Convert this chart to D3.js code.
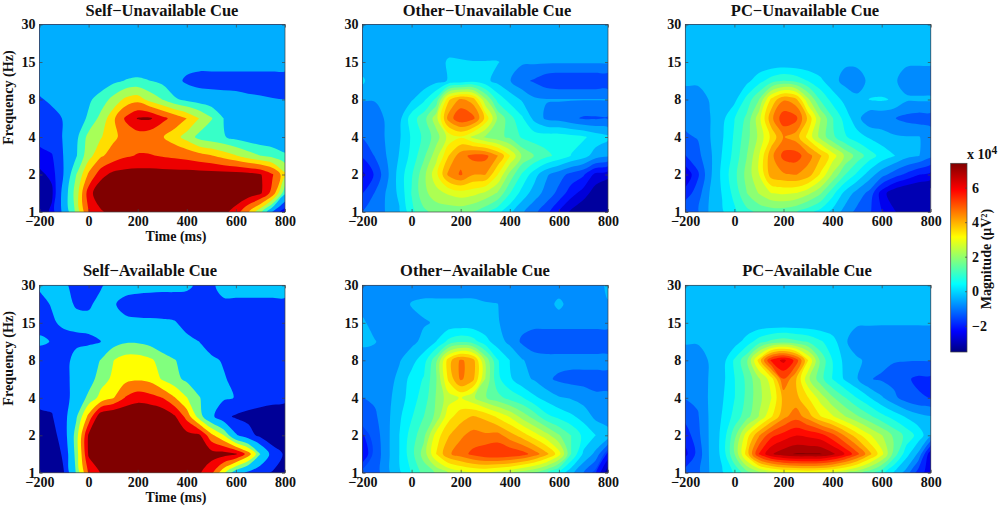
<!DOCTYPE html>
<html>
<head>
<meta charset="utf-8">
<script src="https://cdn.jsdelivr.net/npm/d3@7"></script>
<style>
  html, body { margin: 0; padding: 0; background: #fff; }
  text { font-family: "Liberation Serif", serif; font-weight: bold; fill: #111; }
</style>
</head>
<body>
<div id="chart"></div>
<script>
// values are in units of 10^4 uV^2, rows go from 1 Hz up to 30 Hz, columns from -200 to 800 ms
const timesMs = [-200,-150,-100,-50,0,50,100,150,200,250,300,350,400,450,500,550,600,650,700,750,800];
const freqTicks = [1,2,4,8,15,30];
const timeTicks = [-200,0,200,400,600,800];
const barTicks = [-2,0,2,4,6];
const barRange = [-3.52,7.41];

const selfUnavailable = [
  [-3,-2.2,0,2.5,6.1,7.2,8,8.5,8.5,8.5,8.5,8.5,8.5,8.5,8.3,7.8,6.8,4.8,2.5,-.6,-2.6],
  [-3.2,-2.6,.2,2.8,6.8,8.5,8.5,8.5,8.5,8.5,8.5,8.5,8.5,8.5,8.5,8.5,8.5,8.2,7.6,5.5,1.2],
  [-2.6,-2.2,-.35,2.2,4.9,6.9,7.8,8,8,8,8,8,8,8,8,8,8,7.9,7.5,6.2,3.8],
  [-2,-1.8,-.35,.9,3,4.5,5.3,5.9,6.2,6.2,6,5.8,5.6,5.2,4.8,4.2,3.6,2.8,2.2,1.8,1.2],
  [-1.4,-1,-.35,.7,2.6,3.4,4.4,5.2,5.4,5.2,4.8,4,3,1.8,1.4,1.1,.6,.3,.1,0,-.1],
  [-1.2,-.9,-.35,.3,1.2,2.6,4.4,6.3,7.5,7.6,6.5,5.6,4.7,3.5,2.3,1,.5,.3,.1,0,-.1],
  [-.6,-.2,.2,.4,.8,1.5,2.6,3.8,4.2,3,2.2,1.2,.7,.4,.2,.1,0,-.2,-.3,-.4,-.45],
  [.1,.1,.1,.1,.1,.3,.7,1.05,1.2,1,.7,0,-.7,-1,-1,-1,-1,-1,-1,-1,-1],
  [.1,.1,.1,.1,.1,.1,.1,.1,.1,.1,.1,.1,.1,.1,.1,.1,.1,.1,.1,.1,.1],
  [.2,.2,.2,.2,.2,.2,.2,.2,.2,.2,.2,.2,.2,.2,.2,.2,.2,.2,.2,.2,.2],
  [.2,.2,.2,.2,.2,.2,.2,.2,.2,.2,.2,.2,.2,.2,.2,.2,.2,.2,.2,.2,.2]
];
const otherUnavailable = [
  [-1,-.9,-.4,0,1,1.6,1.9,1.9,1.9,1.7,1.3,.8,.2,-.4,-.9,-1.4,-2.2,-2.8,-3.2,-3.5,-3.6],
  [-1.6,-1,-.4,.2,1.2,2.1,2.6,2.9,3.1,3,2.7,2.2,1.2,.4,-.2,-.7,-1.2,-1.9,-2.4,-3,-3.3],
  [-2.3,-1.5,-.6,.3,1.1,2.1,3.2,4.6,5.1,4.5,4.5,3.4,2.1,1.1,.3,-.4,-.8,-1.2,-1.5,-2.3,-2.5],
  [-1.5,-1,-.45,.1,.8,1.6,2.6,3.9,4.8,5.2,5.2,4.5,3.4,2.2,1.7,1.3,1,.6,.3,-.2,-.4],
  [-1,-.8,-.4,0,.7,1.3,2,3,3.3,2.7,2.2,1.9,1.6,1.1,.9,.9,.9,.8,.7,.4,.2],
  [-.8,-.7,-.4,-.1,.9,1.5,2.6,4.7,5.5,5.2,3.8,2.2,1.4,.7,-.1,-.6,-.7,-.9,-1.1,-1.1,-1.1],
  [-.45,-.45,-.4,-.3,0,.5,1.3,3.8,4.6,4.2,2.4,1,.4,0,-.4,-.45,-.45,-.45,-.45,-.45,-.45],
  [.2,-.4,-.45,-.45,-.4,-.3,-.1,.1,.2,.4,.2,-.1,-.45,-.9,-1.1,-1.4,-1.5,-1.5,-1.5,-1.5,-1.5],
  [-.4,-.4,-.4,-.4,-.4,-.4,-.4,.2,.15,.1,.1,.1,-.1,-.4,-.4,-.4,-.4,-.4,-.4,-.4,-.4],
  [-.4,-.4,-.4,-.4,-.4,-.4,-.4,-.4,-.4,-.4,-.4,-.4,-.4,-.4,-.4,-.4,-.4,-.4,-.4,-.4,-.4],
  [-.4,-.4,-.4,-.4,-.4,-.4,-.4,-.4,-.4,-.4,-.4,-.4,-.4,-.4,-.4,-.4,-.4,-.4,-.4,-.4,-.4]
];
const pcUnavailable = [
  [-.9,-.9,-.2,.2,.7,1.2,1.5,1.6,1.6,1.4,1,.6,.1,-.5,-1,-1.3,-1.9,-2.4,-2.9,-3.4,-3.5],
  [-1.7,-1.1,-.25,.3,1,1.9,2.5,3,3.1,3,2.6,2,1,.1,-.5,-1,-2.2,-2.9,-3.2,-3.3,-3.4],
  [-2.4,-1.5,-.4,.4,1.2,2.1,3,4.4,4.6,4.7,4.4,3.5,2.4,1.4,.7,0,-.6,-1.1,-1.5,-1.9,-2.1],
  [-1.4,-1,-.4,.3,1,1.9,3,4.5,5.4,5.5,4.9,4.2,3.3,2.4,1.7,1.1,.6,.3,-.1,-.25,-.7],
  [-.9,-.8,-.3,.2,.9,1.7,2.6,3.7,4.7,4.4,3.4,2.3,1.5,.9,.5,.2,0,-.2,-.25,-.25,-.5],
  [-.7,-.7,-.3,.1,.8,1.5,2.8,4.5,5.6,5.4,4,2.5,1.4,.6,-.1,-.7,-.7,-.8,-1,-1.1,-1.1],
  [-.5,-.5,-.25,-.2,.1,1,1.9,3.7,4.6,4.3,2.6,1.3,.6,.1,-.2,.3,.35,.2,-.2,-.2,-.2],
  [-.2,-.2,-.2,-.2,-.1,.1,.6,1.1,1.4,1.2,.8,.4,-.1,-.45,-.45,-.2,-.2,-.2,-.5,-.6,-.6],
  [-.2,-.2,-.2,-.2,-.2,-.2,-.2,-.2,-.2,-.2,-.2,-.2,-.2,-.2,-.2,-.2,-.2,-.2,-.2,-.2,-.2],
  [-.2,-.2,-.2,-.2,-.2,-.2,-.2,-.2,-.2,-.2,-.2,-.2,-.2,-.2,-.2,-.2,-.2,-.2,-.2,-.2,-.2],
  [-.2,-.2,-.2,-.2,-.2,-.2,-.2,-.2,-.2,-.2,-.2,-.2,-.2,-.2,-.2,-.2,-.2,-.2,-.2,-.2,-.2]
];
const selfAvailable = [
  [-3,-3,-1.8,2,6.2,7.5,8,8,8,8,8,8,8,7.6,6.4,3.5,.8,-.6,-1.5,-1.9,-2.2],
  [-3,-2.8,-1.5,2.4,7.6,8,8,8,8,8,8,8,8,8,8,8,7.6,5.4,1.8,-1,-2],
  [-2.6,-2.4,-1,2.5,7.6,8,8,8,8,8,8,8,7.9,7.7,5,3.2,0,-1.2,-2.2,-2.8,-2.9],
  [-2,-1.9,-.8,1.6,5,8.5,9,9,9,9,8.6,7.6,5.5,2.5,.2,-1.4,-2,-2.2,-2.3,-2.3,-2.3],
  [-1.5,-1.4,-.8,.5,2.2,3.6,4.5,6.1,6.8,6.5,6,4.7,3.2,1.9,.9,0,-.25,-1,-1.3,-1.5,-1.6],
  [-1,-1,-.7,.4,1,2.6,3.4,4.2,4.4,4.2,3,2.2,1.5,.8,.3,-.1,-.5,-.8,-1,-1,-1],
  [-.9,-.9,-.7,.3,.6,1.9,3.1,3.8,3.8,3.4,2.6,1.9,1,.5,0,-.3,-.4,-.8,-1,-1,-1],
  [0,-.25,-.8,-.5,-.4,-.2,1.2,1.6,1.6,1.3,.6,0,.1,-.2,-.7,-1,-1,-1,-1,-1,-1],
  [-.6,-.4,.1,.1,.1,.1,0,0,0,0,0,-.1,-.6,-1,-1,-1,-1,-1,-1,-.4,-.6],
  [-.6,-.1,.1,-.3,-.35,.1,-.1,-.5,-.7,-.8,-.9,-.9,-.9,-1,-1,-.4,-.4,-.4,-.4,-.4,-.4],
  [0,0,0,-.6,-.6,-.3,.2,.2,.2,.2,.2,.2,.1,-.5,-.4,.2,.2,.2,.2,.2,.2]
];
const otherAvailable = [
  [-1.2,-1.1,-.4,.2,.9,1.6,2,2.5,2.8,3,3,2.8,2.6,2.2,1.9,1.4,.7,-.1,-.8,-1.6,-3.2],
  [-2,-1.2,-.4,.3,1.2,2.2,3.6,4.6,5,5.4,5.7,5.8,5.7,5.5,5,4.3,3.3,1.4,.2,-.4,-1.8],
  [-1.7,-1.1,-.4,.3,1.1,1.8,3.3,4.1,4.6,4.9,4.8,4.9,4.4,3.9,3.3,2.7,2,1.4,.7,.3,.1],
  [-1,-.9,-.4,.2,.8,1.4,2.1,3.4,3.9,4.2,4,3.5,3,2.3,1.7,1,.7,.4,.1,-.4,-.7],
  [-.8,-.7,-.4,0,.6,1.1,2,2.8,3.1,2.6,2,1.6,1.2,.9,.4,.1,-.2,-.3,-.5,-.7,-.7],
  [-.7,-.6,-.5,-.1,.5,.9,1.9,3.7,4.8,4.3,2.5,1,.4,-.1,-.3,-.7,-.9,-1,-1,-1,-1],
  [-.6,-.6,-.6,-.3,.1,.6,1.8,3.9,4.8,4.4,2.4,.9,.3,-.2,-.5,-.6,-.6,-.6,-.6,-.6,-.6],
  [-.1,-.2,-.6,-.6,-.4,-.1,.3,1,1.3,1.1,.5,0,-.4,-.9,-1.2,-1.2,-1.2,-1.2,-1.2,-1.2,-1.2],
  [-.1,-.6,-.6,-.5,-.5,-.3,-.2,-.1,-.1,-.1,-.1,-.2,-.5,-.6,-.6,-.6,-.6,-.6,-.6,-.6,-.6],
  [-.6,-.6,-.6,-.6,-.2,-.1,-.1,-.1,-.1,-.1,-.2,-.24,-.5,-.6,-.6,-.5,-.1,-.5,-.6,-.6,-.3],
  [-.6,-.6,-.6,-.6,-.6,-.6,-.6,-.6,-.6,-.6,-.6,-.6,-.6,-.6,-.6,-.6,-.6,-.6,-.6,-.6,-.1]
];
const pcAvailable = [
  [-1.1,-1,-.25,.2,.9,1.7,2.2,2.6,2.9,3,3.1,3,2.8,2.5,2.1,1.6,1,.2,-.5,-1.7,-2.2],
  [-2.1,-1.2,-.2,.4,1.9,3.8,5.8,6.8,7.2,7.4,7.4,7.4,7,6.3,5.4,4.3,3.2,1.7,.5,-.4,-2.4],
  [-1.7,-1,-.2,.4,1.7,3.3,4.6,5.6,6,6.3,6.2,6,5.4,4.6,3.8,3.1,2.5,1.8,1.2,.6,-.2],
  [-1.2,-.9,-.2,.3,1,1.7,2.5,3.5,4.5,5,4.4,3.6,3.1,2.5,2,1.5,1,.6,.2,-.1,-.25],
  [-.8,-.7,-.2,.2,.8,1.5,2.3,3,4.3,4.3,3.6,2.8,2,1.4,.8,.3,-.2,-.7,-1.1,-1.3,-1.4],
  [-.8,-.8,-.2,.1,.8,1.5,2.4,3.3,5.2,4.2,2.6,1.6,.8,.2,-.25,-.8,-.9,-1,-1.3,-1.5,-1.5],
  [-.7,-.7,-.2,0,.9,1.8,3.8,5.9,6.5,5.6,3.6,1.8,.8,.1,-.2,-.4,-.7,-.8,-.8,-.8,-.8],
  [-.2,-.2,-.2,-.2,0,.5,1.1,1.5,1.7,1.5,1.3,.9,.5,-.2,-.6,-.7,-.8,-.8,-.8,-.8,-.8],
  [-.2,-.2,-.2,-.2,-.2,-.2,-.2,-.2,-.2,-.2,-.2,-.2,-.2,-.2,-.2,-.2,-.2,-.2,-.2,-.2,-.2],
  [-.2,-.2,-.2,-.2,-.2,-.2,-.2,-.2,-.2,-.2,-.2,-.2,-.2,-.2,-.2,-.2,-.2,-.2,-.2,-.2,-.2],
  [-.2,-.2,-.2,-.2,-.2,-.2,-.2,-.2,-.2,-.2,-.2,-.2,-.2,-.2,-.2,-.2,-.2,-.2,-.2,-.2,-.2]
];

// contour levels of each panel, every band is filled with the colour of its lower level
const selfUnavailableLevels = [-3.2,-2.4,-1.7,-.45,1,2.2,3.5,4.7,6.1,7.4];
const selfAvailableLevels = [-3.3,-1.8,-.2,1.8,3.15,4.6,6,7.4];
const otherUnavailableLevels = [-3.23,-2.68,-2.13,-1.58,-1.03,-.48,.07,.62,1.17,1.72,2.27,2.82,3.37,3.92,4.47,5.02,5.57,6.12,6.67,7.22];
const pcUnavailableLevels = [-3.03,-2.48,-1.93,-1.38,-.83,-.28,.27,.82,1.37,1.92,2.47,3.02,3.57,4.12,4.67,5.22,5.77,6.32,6.87,7.42];
const otherAvailableLevels = [-3.28,-2.73,-2.18,-1.63,-1.35,-.8,-.25,.3,.85,1.4,1.95,2.5,3.05,3.6,4.15,4.7,5.25,5.8,6.35,6.9];
const pcAvailableLevels = [-3.03,-2.48,-1.93,-1.38,-.83,-.28,.27,.82,1.37,1.92,2.47,3.02,3.57,4.12,4.67,5.22,5.77,6.32,6.87,7.35];

const panels = [
  {title: "Self\u2212Unavailable Cue", grid: selfUnavailable, levels: selfUnavailableLevels, left: 39.5, top: 24.5, titleX: 162, ylabel: true, xlabel: true},
  {title: "Other\u2212Unavailable Cue", grid: otherUnavailable, levels: otherUnavailableLevels, left: 362.5, top: 24.5, titleX: 487},
  {title: "PC\u2212Unavailable Cue", grid: pcUnavailable, levels: pcUnavailableLevels, left: 685.3, top: 24.5, titleX: 805},
  {title: "Self\u2212Available Cue", grid: selfAvailable, levels: selfAvailableLevels, left: 39.5, top: 285.3, titleX: 150, ylabel: true, xlabel: true},
  {title: "Other\u2212Available Cue", grid: otherAvailable, levels: otherAvailableLevels, left: 362.5, top: 285.3, titleX: 475},
  {title: "PC\u2212Available Cue", grid: pcAvailable, levels: pcAvailableLevels, left: 685.3, top: 285.3, titleX: 807}
];

const width = 1000, height = 506;
const panelW = 245.5, panelH = 187.5;

// MATLAB jet colormap
const jetStops = [[0,0,0,.5],[.11,0,0,1],[.36,0,1,1],[.61,1,1,0],[.86,1,0,0],[1,.5,0,0]];
const jetT = d3.scaleLinear().domain(barRange).range([0,1]).clamp(true);
const jetColor = d3.scaleLinear()
  .domain(jetStops.map(d => d[0]))
  .range(jetStops.map(d => d3.rgb(d[1] * 255, d[2] * 255, d[3] * 255)));
const jet = v => jetColor(jetT(v));

const svg = d3.select("#chart").append("svg")
  .attr("width", width)
  .attr("height", height)
  .style("display", "block");

const defs = svg.append("defs");

function ticksOnBox(g, x, y) {
  // ticks go inside the box on all four sides, labels only left and bottom
  const style = sel => {
    sel.select(".domain").remove();
    sel.selectAll("line").attr("stroke", "#444").attr("stroke-width", 0.7);
  };
  g.append("g").attr("transform", `translate(0,${panelH})`)
    .call(d3.axisBottom(x).tickValues(timeTicks).tickSize(-3).tickPadding(4).tickFormat(d3.format("d")))
    .call(style);
  g.append("g")
    .call(d3.axisTop(x).tickValues(timeTicks).tickSize(-3).tickFormat(""))
    .call(style);
  g.append("g")
    .call(d3.axisLeft(y).tickSize(-3).tickPadding(4))
    .call(style);
  g.append("g").attr("transform", `translate(${panelW},0)`)
    .call(d3.axisRight(y).tickSize(-3).tickFormat(""))
    .call(style);
  g.selectAll(".tick text")
    .style("font-size", "14px")
    .style("font-family", '"Liberation Serif", serif')
    .style("font-weight", "bold")
    .attr("fill", "#111");
}

panels.forEach((p, i) => {
  const g = svg.append("g").attr("transform", `translate(${p.left},${p.top})`);
  const x = d3.scaleLinear().domain([timesMs[0], timesMs[timesMs.length - 1]]).range([0, panelW]);
  const y = d3.scalePoint().domain(freqTicks).range([panelH, 0]);
  const rowY = d3.scaleLinear().domain([0, p.grid.length - 1]).range([panelH, 0]);

  // d3.contours puts grid point i at coordinate i + 0.5
  const ringLine = d3.line()
    .x(c => x(timesMs[0] + (c[0] - 0.5) * (timesMs[1] - timesMs[0])))
    .y(c => rowY(c[1] - 0.5))
    .curve(d3.curveCatmullRomClosed.alpha(0.5));
  const contourPath = d => d.coordinates
    .flatMap(polygon => polygon.map(ring => ringLine(ring.slice(0, -1))))
    .join("");

  const contours = d3.contours()
    .size([timesMs.length, p.grid.length])
    .thresholds(p.levels)(p.grid.flat());

  defs.append("clipPath").attr("id", `clip${i}`)
    .append("rect").attr("width", panelW).attr("height", panelH);

  const plot = g.append("g").attr("clip-path", `url(#clip${i})`);
  plot.append("rect")
    .attr("width", panelW)
    .attr("height", panelH)
    .attr("fill", jet(p.levels[0]));
  plot.selectAll("path")
    .data(contours)
    .enter()
    .append("path")
    .attr("d", contourPath)
    .attr("fill-rule", "evenodd")
    .attr("fill", d => jet(d.value));

  g.append("rect")
    .attr("width", panelW)
    .attr("height", panelH)
    .attr("fill", "none")
    .attr("stroke", "#444")
    .attr("stroke-width", 0.7);

  ticksOnBox(g, x, y);

  svg.append("text")
    .attr("x", p.titleX)
    .attr("y", p.top - 9)
    .attr("text-anchor", "middle")
    .style("font-size", "16.5px")
    .text(p.title);

  if (p.ylabel) {
    svg.append("text")
      .attr("transform", `translate(12.5,${p.top + 73}) rotate(-90)`)
      .attr("text-anchor", "middle")
      .style("font-size", "14.2px")
      .text("Frequency (Hz)");
  }
  if (p.xlabel) {
    svg.append("text")
      .attr("x", 176)
      .attr("y", p.top + panelH + 29)
      .attr("text-anchor", "middle")
      .style("font-size", "14px")
      .text("Time (ms)");
  }
});

// colour bar
const barX = 950.7, barW = 16.3, barTop = 163.3, barH = 188.7;
const barY = d3.scaleLinear().domain(barRange).range([barTop + barH, barTop]);
const grad = defs.append("linearGradient").attr("id", "jetbar")
  .attr("x1", 0).attr("x2", 0).attr("y1", 1).attr("y2", 0);
jetStops.forEach(s => {
  grad.append("stop")
    .attr("offset", s[0])
    .attr("stop-color", d3.rgb(s[1] * 255, s[2] * 255, s[3] * 255));
});
svg.append("rect")
  .attr("x", barX)
  .attr("y", barTop)
  .attr("width", barW)
  .attr("height", barH)
  .attr("fill", "url(#jetbar)")
  .attr("stroke", "#444")
  .attr("stroke-width", 0.7);

const barAxis = svg.append("g")
  .attr("transform", `translate(${barX + barW},0)`)
  .call(d3.axisRight(barY).tickValues(barTicks).tickSize(-2).tickPadding(5).tickFormat(d3.format("d")));
barAxis.select(".domain").remove();
barAxis.selectAll("line").attr("stroke", "#444").attr("stroke-width", 0.7);
barAxis.selectAll("text")
  .style("font-size", "14px")
  .style("font-family", '"Liberation Serif", serif')
  .style("font-weight", "bold")
  .attr("fill", "#111");

const expo = svg.append("text")
  .attr("x", 967)
  .attr("y", 159)
  .style("font-size", "14px");
expo.append("tspan").text("x 10");
expo.append("tspan").attr("dy", -5).style("font-size", "11.5px").text("4");

svg.append("text")
  .attr("transform", `translate(991,259) rotate(-90)`)
  .attr("text-anchor", "middle")
  .style("font-size", "14px")
  .text("Magnitude (\u03BCV\u00B2)");
</script>
</body>
</html>
